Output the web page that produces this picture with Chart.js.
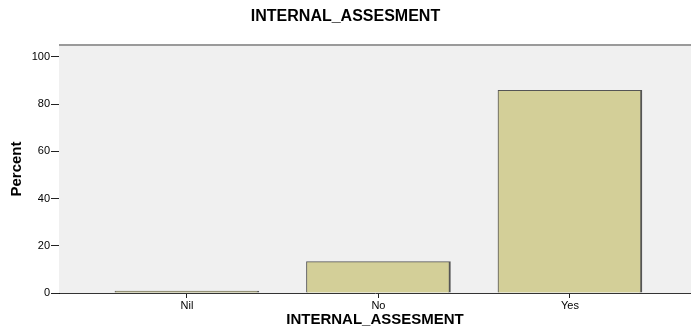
<!DOCTYPE html>
<html>
<head>
<meta charset="utf-8">
<script src="https://cdn.jsdelivr.net/npm/chart.js@4/dist/chart.umd.min.js"></script>
<style>
  body { margin: 0; background: #fff; }
  #box { width: 691px; height: 327px; }
</style>
</head>
<body>
<div id="box"><canvas id="grafico"></canvas></div>
<script>
// dados do gráfico
var categorias = ['Nil', 'No', 'Yes'];
var percentuais = [0.8, 13.3, 85.8];
var ticksY = [0, 20, 40, 60, 80, 100];

// fundo cinza e borda superior da área do gráfico
var fundoPlugin = {
    id: 'fundo',
    beforeDatasetsDraw: function (chart) {
        var ctx = chart.ctx, a = chart.chartArea;
        ctx.save();
        ctx.fillStyle = '#f0f0f0';
        ctx.fillRect(a.left, a.top, a.right - a.left, a.bottom - a.top);
        ctx.strokeStyle = '#9a9a9a';
        ctx.lineWidth = 2;
        ctx.beginPath();
        ctx.moveTo(a.left, a.top);
        ctx.lineTo(a.right, a.top);
        ctx.stroke();
        ctx.restore();
    }
};

var pontos = categorias.map(function (c, i) { return { x: i, y: percentuais[i] }; });

new Chart(document.getElementById('grafico').getContext('2d'), {
    type: 'bar',
    data: {
        datasets: [{
            label: 'Percent',
            data: pontos,
            backgroundColor: '#d3cf98',
            borderColor: '#555555',
            borderWidth: { top: 1, left: 1, right: 2, bottom: 0 },
            borderSkipped: false,
            barThickness: 144
        }]
    },
    plugins: [fundoPlugin],
    options: {
        responsive: true,
        maintainAspectRatio: false,
        animation: false,
        layout: { padding: 0 },
        plugins: {
            legend: { display: false },
            tooltip: { enabled: false },
            title: {
                display: true,
                text: 'INTERNAL_ASSESMENT',
                color: '#000',
                font: { family: 'Liberation Sans, Arial, sans-serif', size: 16, weight: 'bold', lineHeight: 1.2 },
                padding: { top: 7.4, bottom: 18.4 }
            }
        },
        scales: {
            x: {
                type: 'linear',
                offset: false,
                min: -0.668,
                max: 2.632,
                afterFit: function (s) { s.height = 34; },
                afterBuildTicks: function (s) {
                    s.ticks = categorias.map(function (c, i) { return { value: i }; });
                },
                ticks: {
                    color: '#000',
                    padding: 1,
                    maxRotation: 0,
                    autoSkip: false,
                    font: { family: 'Liberation Sans, Arial, sans-serif', size: 11 },
                    callback: function (v) { return categorias[v]; }
                },
                grid: { offset: false, drawOnChartArea: false, tickLength: 5, tickColor: '#222' },
                border: { color: '#333', width: 1 },
                title: {
                    display: true,
                    text: 'INTERNAL_ASSESMENT',
                    color: '#000',
                    font: { family: 'Liberation Sans, Arial, sans-serif', size: 15, weight: 'bold', lineHeight: 1 },
                    padding: { top: 0, bottom: 0 }
                }
            },
            y: {
                min: 0,
                max: 105,
                afterFit: function (s) { s.width = 59; },
                afterBuildTicks: function (s) {
                    s.ticks = ticksY.map(function (v) { return { value: v }; });
                },
                ticks: {
                    color: '#000',
                    padding: 1,
                    font: { family: 'Liberation Sans, Arial, sans-serif', size: 11 }
                },
                grid: { drawOnChartArea: false, tickLength: 8, tickColor: '#222' },
                border: { color: '#111', width: 1 },
                title: {
                    display: true,
                    text: 'Percent',
                    color: '#000',
                    font: { family: 'Liberation Sans Narrow, Arial Narrow, sans-serif', size: 15, weight: 'bold', lineHeight: 1.2 },
                    padding: { top: 8, bottom: 0 }
                }
            }
        }
    }
});
</script>
</body>
</html>
